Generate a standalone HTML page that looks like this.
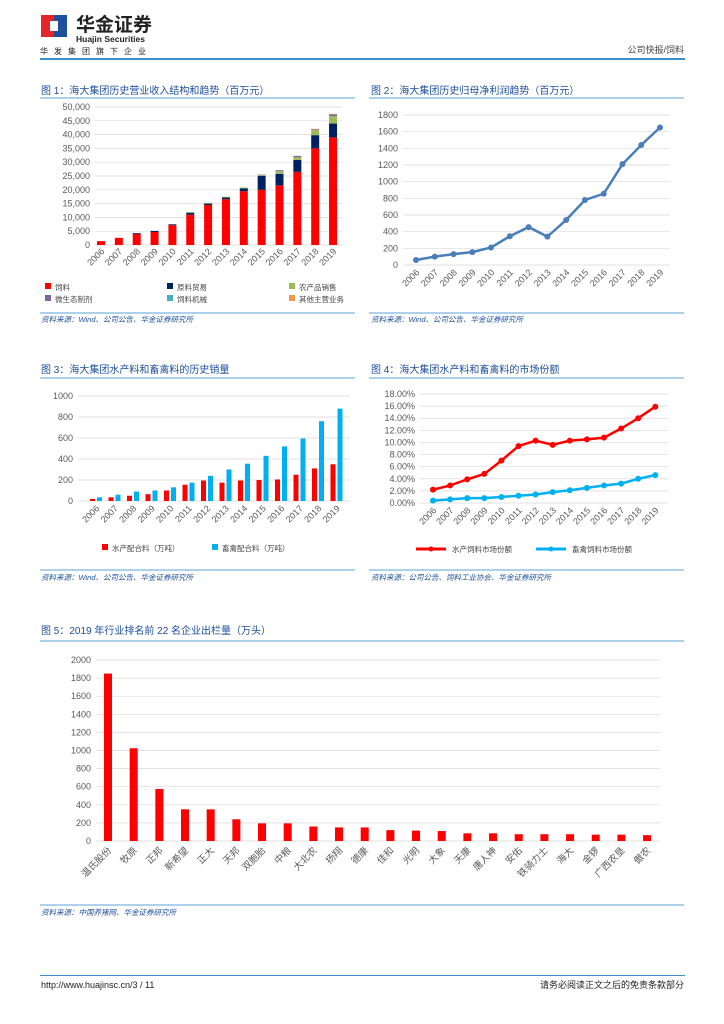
<!DOCTYPE html>
<html><head><meta charset="utf-8"><style>
html,body{margin:0;padding:0;background:#fff}
svg{display:block;font-family:"Liberation Sans","Noto Sans CJK SC",sans-serif}
</style></head><body>
<svg id="pg" width="724" height="1024" viewBox="0 0 724 1024" xmlns="http://www.w3.org/2000/svg">
<g>
<rect x="41" y="15" width="13" height="22" fill="#e4262b"/><rect x="54" y="15" width="13" height="22" fill="#1d4f9c"/>
<rect x="50" y="21" width="8" height="10" fill="#fff"/>
<text x="76" y="31" font-size="19" font-weight="bold" fill="#222">华金证券</text>
<text x="76" y="42" font-size="8.5" font-weight="bold" fill="#222">Huajin Securities</text>
<text x="40" y="54" font-size="8" fill="#222" letter-spacing="6">华发集团旗下企业</text>
<text x="684" y="53" font-size="9" fill="#444" text-anchor="end">公司快报/饲料</text>
<rect x="40" y="58" width="645" height="2" fill="#3b8fcc"/>
</g>
<g id="titles" font-size="10" fill="#1d4f9c">
<text x="41" y="94">图 1：海大集团历史营业收入结构和趋势（百万元）</text>
<text x="371" y="94">图 2：海大集团历史归母净利润趋势（百万元）</text>
<text x="41" y="373">图 3：海大集团水产料和畜禽料的历史销量</text>
<text x="371" y="373">图 4：海大集团水产料和畜禽料的市场份额</text>
<text x="41" y="634">图 5：2019 年行业排名前 22 名企业出栏量（万头）</text>
</g>
<g stroke="#5ba3d6" stroke-width="1">
<line x1="40" y1="98" x2="355" y2="98"/><line x1="369" y1="98" x2="684" y2="98"/>
<line x1="40" y1="313" x2="355" y2="313"/><line x1="369" y1="313" x2="684" y2="313"/>
<line x1="40" y1="378" x2="355" y2="378"/><line x1="369" y1="378" x2="684" y2="378"/>
<line x1="40" y1="570" x2="355" y2="570"/><line x1="369" y1="570" x2="684" y2="570"/>
<line x1="40" y1="641" x2="684" y2="641"/><line x1="40" y1="905" x2="684" y2="905"/>
</g>
<g font-size="7.5" fill="#1d4f9c" font-style="italic">
<text x="41" y="322">资料来源：Wind、公司公告、华金证券研究所</text>
<text x="371" y="322">资料来源：Wind、公司公告、华金证券研究所</text>
<text x="41" y="580">资料来源：Wind、公司公告、华金证券研究所</text>
<text x="371" y="580">资料来源：公司公告、饲料工业协会、华金证券研究所</text>
<text x="41" y="915">资料来源：中国养猪网、华金证券研究所</text>
</g>
<g>
<rect x="40" y="975" width="645" height="1" fill="#3b8fcc"/>
<text x="41" y="988" font-size="9" fill="#222">http://www.huajinsc.cn/3 / 11</text>
<text x="684" y="988" font-size="9" fill="#222" text-anchor="end">请务必阅读正文之后的免责条款部分</text>
</g>
<g id="c1"></g>
<g id="c2"></g>
<g id="c3"></g>
<g id="c4"></g>
<g id="c5"></g>
</svg>
<script>
const years=["2006","2007","2008","2009","2010","2011","2012","2013","2014","2015","2016","2017","2018","2019"];
const feedRev=[1400,2600,4000,4700,7200,11000,14500,16600,19500,20000,21600,26500,35000,39000];
const tradeRev=[0,0,300,400,300,700,500,600,1000,5000,4200,4300,4800,5000];
const agriRev=[0,0,0,0,0,200,300,300,300,300,900,1000,1800,2700];
const microRev=[0,0,0,0,0,0,0,0,0,200,400,500,300,600];
const machRev=[0,0,0,0,0,0,0,0,0,0,0,0,0,0];
const otherRev=[0,0,0,0,0,0,0,0,0,0,0,0,200,200];
const rev1Ticks=[0,5000,10000,15000,20000,25000,30000,35000,40000,45000,50000];
const profit=[60,100,130,155,210,345,455,340,540,780,855,1210,1440,1650];
const profitTicks=[0,200,400,600,800,1000,1200,1400,1600,1800];
const aquaVol=[20,35,50,65,100,155,195,175,195,200,205,250,310,350];
const liveVol=[35,60,90,100,130,175,240,300,355,430,520,595,760,880];
const volTicks=[0,200,400,600,800,1000];
const aquaShare=[2.2,2.9,3.9,4.8,7.0,9.4,10.3,9.6,10.3,10.5,10.8,12.3,14.0,15.9];
const liveShare=[0.4,0.6,0.8,0.8,1.0,1.2,1.4,1.8,2.1,2.5,2.9,3.2,4.0,4.6];
const shareTicks=[0,2,4,6,8,10,12,14,16,18];
const firms=["温氏股份","牧原","正邦","新希望","正大","天邦","双胞胎","中粮","大北农","扬翔","德康","佳和","光明","大象","天康","唐人神","安佑","铁骑力士","海大","金锣","广西农垦","傲农"];
const hogs=[1850,1025,575,350,350,240,195,195,160,150,150,120,115,110,85,85,75,75,75,70,70,65];
const hogTicks=[0,200,400,600,800,1000,1200,1400,1600,1800,2000];

const NS="http://www.w3.org/2000/svg";
function mk(p,t,a,txt){const e=document.createElementNS(NS,t);for(const k in a)e.setAttribute(k,a[k]);if(txt!=null)e.textContent=txt;p.appendChild(e);return e;}
function lin(d0,d1,r0,r1){return v=>r0+(v-d0)*(r1-r0)/(d1-d0);}
function axes(g,ticks,y,x0,x1,fmt){ticks.forEach(t=>{const l=mk(g,'line',{x1:x0,x2:x1,y1:y(t),y2:y(t),stroke:'#d9d9d9','stroke-width':0.7});


const tx=mk(g,'text',{x:x0-5,y:y(t)+3,'font-size':9,fill:'#595959','text-anchor':'end'},fmt(t));

});}
function xlabels(g,labs,x,y,fs){labs.forEach((s,i)=>{const t=mk(g,'text',{transform:`translate(${x(i)+4},${y}) rotate(-45)`,'font-size':fs,fill:'#595959','text-anchor':'end'},s);

});}
function legend(g,x,y,col,label,line){if(line){mk(g,'line',{x1:x,x2:x+30,y1:y-3,y2:y-3,stroke:col,'stroke-width':3});mk(g,'circle',{cx:x+15,cy:y-3,r:2.5,fill:col});x+=26;}else mk(g,'rect',{x:x,y:y-7,width:6,height:6,fill:col});
const t=mk(g,'text',{x:x+10,y:y,'font-size':7.5,fill:'#444'},label);

}
const fmtK=t=>t.toLocaleString('en-US');

{const g=document.getElementById('c1');const y=lin(0,50000,245,107);const x=i=>101+i*17.85;
axes(g,rev1Ticks,y,95,342,fmtK);
const series=[feedRev,tradeRev,agriRev,microRev,machRev,otherRev];const cols=['#ff0000','#002060','#9bbb59','#8064a2','#4bacc6','#f79646'];
years.forEach((yr,i)=>{let acc=0;series.forEach((s,k)=>{if(!s[i])return;const r=mk(g,'rect',{x:x(i)-4,y:y(acc+s[i]),width:8,height:y(acc)-y(acc+s[i]),fill:cols[k]});

acc+=s[i];});});
xlabels(g,years,x,252,9);
const names=['饲料','原料贸易','农产品销售','微生态制剂','饲料机械','其他主营业务'];
names.forEach((n,k)=>legend(g,45+(k%3)*122,290+Math.floor(k/3)*12,cols[k],n,false));}

{const g=document.getElementById('c2');const y=lin(0,1800,265,115);const x=i=>416+i*18.77;
axes(g,profitTicks,y,403,670,t=>t);
const pl=mk(g,'polyline',{points:profit.map((v,i)=>x(i)+','+y(v)).join(' '),fill:'none',stroke:'#4a7ebb','stroke-width':2.5});


profit.forEach((v,i)=>{const c=mk(g,'circle',{cx:x(i),cy:y(v),r:3,fill:'#4a7ebb'});

});
xlabels(g,years,x,273,9);}

{const g=document.getElementById('c3');const y=lin(0,1000,501,396);const x=i=>96+i*18.5;
axes(g,volTicks,y,78,350,t=>t);
years.forEach((yr,i)=>{const a=mk(g,'rect',{x:x(i)-6,y:y(aquaVol[i]),width:5,height:y(0)-y(aquaVol[i]),fill:'#ff0000'});


const b=mk(g,'rect',{x:x(i)+1,y:y(liveVol[i]),width:5,height:y(0)-y(liveVol[i]),fill:'#00b0f0'});

});
xlabels(g,years,x,509,9);
legend(g,102,551,'#ff0000','水产配合料（万吨）',false);legend(g,212,551,'#00b0f0','畜禽配合料（万吨）',false);}

{const g=document.getElementById('c4');const y=lin(0,18,503,394);const x=i=>433+i*17.1;
axes(g,shareTicks,y,420,668,t=>t.toFixed(2)+'%');
[[aquaShare,'#ff0000','aqua-share-line'],[liveShare,'#00b0f0','livestock-share-line']].forEach(([d,c,n])=>{
const pl=mk(g,'polyline',{points:d.map((v,i)=>x(i)+','+y(v)).join(' '),fill:'none',stroke:c,'stroke-width':2.5});


d.forEach((v,i)=>{const p=mk(g,'circle',{cx:x(i),cy:y(v),r:3,fill:c});

});});
xlabels(g,years,x,511,9);
legend(g,416,552,'#ff0000','水产饲料市场份额',true);legend(g,536,552,'#00b0f0','畜禽饲料市场份额',true);}

{const g=document.getElementById('c5');const y=lin(0,2000,841,660);const x=i=>108+i*25.67;
axes(g,hogTicks,y,96,660,t=>t);
firms.forEach((f,i)=>{const r=mk(g,'rect',{x:x(i)-4,y:y(hogs[i]),width:8,height:y(0)-y(hogs[i]),fill:'#ff0000'});

});
xlabels(g,firms,x,851,9.5);}
</script>
</body></html>
